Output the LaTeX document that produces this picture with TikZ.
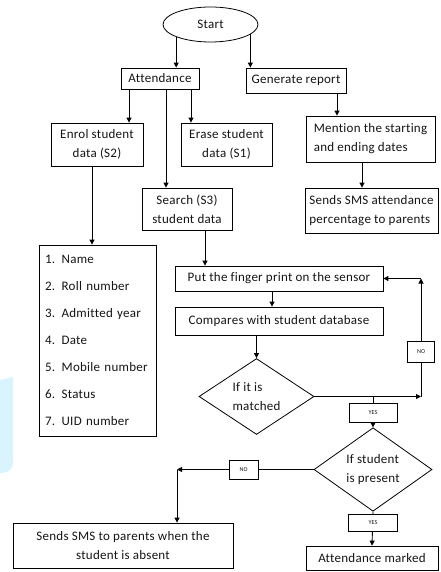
\documentclass[tikz,border=0pt]{standalone}
\usepackage{fontspec}
\setmainfont{Carlito}[LetterSpace=2,Ligatures=CommonOff]
\usetikzlibrary{arrows.meta,shapes.geometric}
\begin{document}
\begin{tikzpicture}[x=1pt,y=-1pt,
  every node/.style={text=black!92},
  box/.style={draw, line width=0.8pt, inner sep=0pt, align=center, font=\fontsize{13}{19}\selectfont},
  lbl/.style={draw, fill=white, line width=0.8pt, inner sep=0pt, font=\fontsize{6}{7}\selectfont},
  arr/.style={line width=0.9pt, -{Triangle[length=5pt,width=5pt]}},
  ln/.style={line width=0.9pt}]
\useasboundingbox (0,0) rectangle (440,572);
% light blue patch at the left edge
\fill[blue!30!cyan!15] (0,380) -- (13,377) -- (13,462) .. controls (13,470) and (8,473) .. (0,473) -- cycle;

\node[draw, ellipse, line width=0.8pt, minimum width=95pt, minimum height=35pt, inner sep=0pt, font=\fontsize{13}{15}\selectfont] (start) at (210.5,24.5) {Start};

\node[box, minimum width=78pt, minimum height=21pt] (att) at (160,78.5) {Attendance};
\node[box, minimum width=100pt, minimum height=25pt] (gen) at (296,80.5) {Generate report};
\node[box, minimum width=92pt, minimum height=43pt] (enrol) at (97,144.5) {Enrol student\\data (S2)};
\node[box, minimum width=91pt, minimum height=43pt] (erase) at (226.5,144.5) {Erase student\\data (S1)};
\node[box, minimum width=90pt, minimum height=42pt] (search) at (187,209) {Search (S3)\\student data};
\node[box, minimum width=129pt, minimum height=46pt, align=left] (mention) at (370.5,139) {Mention the starting\\and ending dates};
\node[box, minimum width=133pt, minimum height=45pt, align=left] (smsatt) at (371.5,210.5) {Sends SMS attendance\\percentage to parents};
\node[box, minimum width=117pt, minimum height=191pt, align=left, text width=105pt, font=\fontsize{13}{27}\selectfont] (list) at (97.5,340.5)
  {1. Name\\2. Roll number\\3. Admitted year\\4. Date\\5. Mobile number\\6. Status\\7. UID number};
\node[box, minimum width=208pt, minimum height=25pt] (put) at (279,278.5) {Put the finger print on the sensor};
\node[box, minimum width=208pt, minimum height=28pt] (comp) at (279,321) {Compares with student database};
\node[box, diamond, minimum width=115pt, minimum height=73pt, align=left] (d1) at (256.5,396.5) {If it is\\matched};
\node[box, diamond, minimum width=118pt, minimum height=73pt, align=left] (d2) at (373,469.5) {If student\\is present};
\node[box, minimum width=220pt, minimum height=45pt] (sms) at (123,545.5) {Sends SMS to parents when the\\student is absent};
\node[box, minimum width=132pt, minimum height=24pt] (marked) at (372,558) {Attendance marked};

\coordinate (c1) at (421,396.5);
\coordinate (c2) at (421,278.5);
\coordinate (b1) at (373,396.5);
\coordinate (c3) at (177,469.5);

% connectors
\draw[arr] (start.200) -- (start.200 |- att.north);
\draw[arr] (start.346) -- (start.346 |- gen.north);
\draw[arr] ([xshift=-31pt]att.south) -- ([xshift=-31pt]att.south |- enrol.north);
\draw[arr] ([xshift=6pt]att.south) -- ([xshift=6pt]att.south |- search.north);
\draw[arr] ([xshift=31pt]att.south) -- ([xshift=31pt]att.south |- erase.north);
\draw[arr] ([xshift=41pt]gen.south) -- ([xshift=41pt]gen.south |- mention.north);
\draw[arr] ([xshift=-8.5pt]mention.south) -- ([xshift=-8.5pt]mention.south |- smsatt.north);
\draw[arr] ([xshift=-5pt]enrol.south) -- ([xshift=-5pt]enrol.south |- list.north);
\draw[arr] ([xshift=18pt]search.south) -- ([xshift=18pt]search.south |- put.north);
\draw[arr] ([xshift=-7pt]put.south) -- ([xshift=-7pt]put.south |- comp.north);
\draw[arr] (comp.south -| d1.north) -- (d1.north);
\draw[arr] (d1.east) -- (c1);
\draw[arr] (c1) -- (c2);
\draw[arr] (c2) -- (put.east);
\draw[arr] (b1) -- (d2.north);
\draw[arr] (d2.west) -- (c3);
\draw[arr] (c3) -- (c3 |- sms.north);
\draw[arr] (d2.south) -- (marked.north);

% branch labels
\node[lbl, minimum width=27pt, minimum height=21pt] (no1) at (421,351.5) {NO};
\node[lbl, minimum width=48pt, minimum height=19pt] (yes1) at (373,412.5) {YES};
\node[lbl, minimum width=29pt, minimum height=19pt] (no2) at (243.5,470) {NO};
\node[lbl, minimum width=49pt, minimum height=17pt] (yes2) at (373,522.5) {YES};
\end{tikzpicture}
\end{document}
